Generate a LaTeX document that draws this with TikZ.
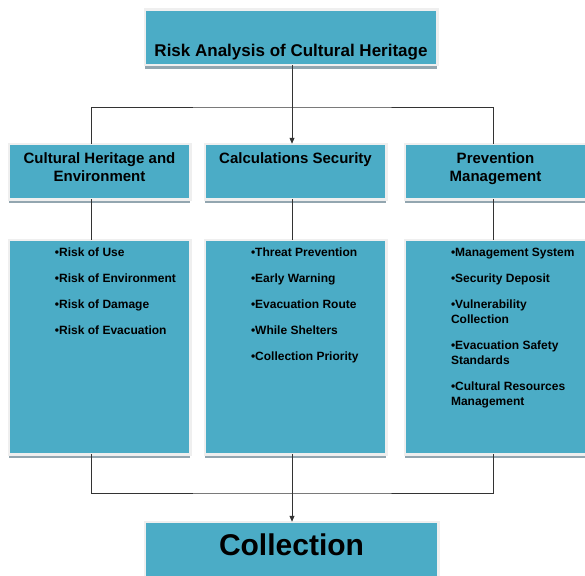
\documentclass[tikz,border=0pt]{standalone}
\usepackage{fontspec}
\setmainfont{Liberation Sans}
\usetikzlibrary{positioning,shadows,arrows.meta}
\definecolor{boxfill}{HTML}{4BACC6}
\definecolor{boxframe}{HTML}{EFEFEF}
\definecolor{boxshade}{HTML}{93A6B0}
\definecolor{linkline}{HTML}{333333}
\newcommand{\headtext}[4]{\parbox[c][#2][t]{#1}{\centering\rule{0pt}{#3}#4}}
\newcommand{\listtext}[4]{\parbox[c][#2][t]{#1}{\raggedright\leftskip=46.25pt\rule{0pt}{#3}#4}}
\begin{document}
\begin{tikzpicture}[x=1pt,y=-1pt,>={Triangle[length=6pt,width=5pt]},
    panel/.style={draw=boxframe, line width=2.5pt, fill=boxfill, inner sep=0pt, outer sep=0pt,
      drop shadow={shadow xshift=0pt, shadow yshift=-3.5pt, fill=boxshade, opacity=1}},
    link/.style={draw=linkline, line width=0.8pt},
    titlefont/.style={font=\fontsize{17}{20}\selectfont\bfseries},
    headfont/.style={font=\fontsize{15}{18}\selectfont\bfseries},
    listfont/.style={font=\fontsize{12}{15}\selectfont\bfseries}]
    \clip (0,0) rectangle (585,575);

    \node[panel,titlefont] (top) at (291,37.5) {\headtext{292.5pt}{55.5pt}{47.25pt}{Risk Analysis of Cultural Heritage}};
    \node[panel,headfont] (heritage) at (99.5,171.5) {\headtext{181.5pt}{55.5pt}{19.25pt}{Cultural Heritage and\\Environment}};
    \node[panel,headfont,right=14.5pt of heritage] (security) {\headtext{181.5pt}{55.5pt}{19.25pt}{Calculations Security}};
    \node[panel,headfont,right=18.5pt of security] (prevention) {\headtext{181.5pt}{55.5pt}{19.25pt}{Prevention\\Management}};

    \node[panel,listfont,below=40.5pt of heritage] (hazards) {\listtext{181.5pt}{214.5pt}{16.25pt}{%
      \textbullet Risk of Use\\[11pt]\textbullet Risk of Environment\\[11pt]%
      \textbullet Risk of Damage\\[11pt]\textbullet Risk of Evacuation}};
    \node[panel,listfont,below=40.5pt of security] (measures) {\listtext{181.5pt}{214.5pt}{16.25pt}{%
      \textbullet Threat Prevention\\[11pt]\textbullet Early Warning\\[11pt]%
      \textbullet Evacuation Route\\[11pt]\textbullet While Shelters\\[11pt]%
      \textbullet Collection Priority}};
    \node[panel,listfont,below=40.5pt of prevention] (actions) {\listtext{181.5pt}{214.5pt}{16.25pt}{%
      \textbullet Management System\\[11pt]\textbullet Security Deposit\\[11pt]%
      \textbullet Vulnerability\\Collection\\[11pt]%
      \textbullet Evacuation Safety\\Standards\\[11pt]%
      \textbullet Cultural Resources\\Management}};

    \node[panel,font=\fontsize{30}{36}\selectfont\bfseries,below=67.5pt of measures,xshift=-4pt] (collection) {\headtext{293.5pt}{57.5pt}{33.25pt}{Collection}};

    \coordinate (fork) at (292,107);
    \coordinate (merge) at (292,493);

    \draw[link,->] ([xshift=1pt]top.south) -- ([xshift=-3.5pt]security.north);
    \draw[link] ([xshift=-8.5pt]heritage.north) |- (fork) -| ([xshift=-2.5pt]prevention.north);
    \draw[link] ([xshift=-8.5pt]heritage.south) -- ([xshift=-8.5pt]hazards.north);
    \draw[link] ([xshift=-3.5pt]security.south) -- ([xshift=-3.5pt]measures.north);
    \draw[link] ([xshift=-2.5pt]prevention.south) -- ([xshift=-2.5pt]actions.north);
    \draw[link] ([xshift=-8.5pt]hazards.south) |- (merge) -| ([xshift=-2.5pt]actions.south);
    \draw[link,->] ([xshift=-3.5pt]measures.south) -- ([xshift=0.5pt]collection.north);
  \end{tikzpicture}
\end{document}
